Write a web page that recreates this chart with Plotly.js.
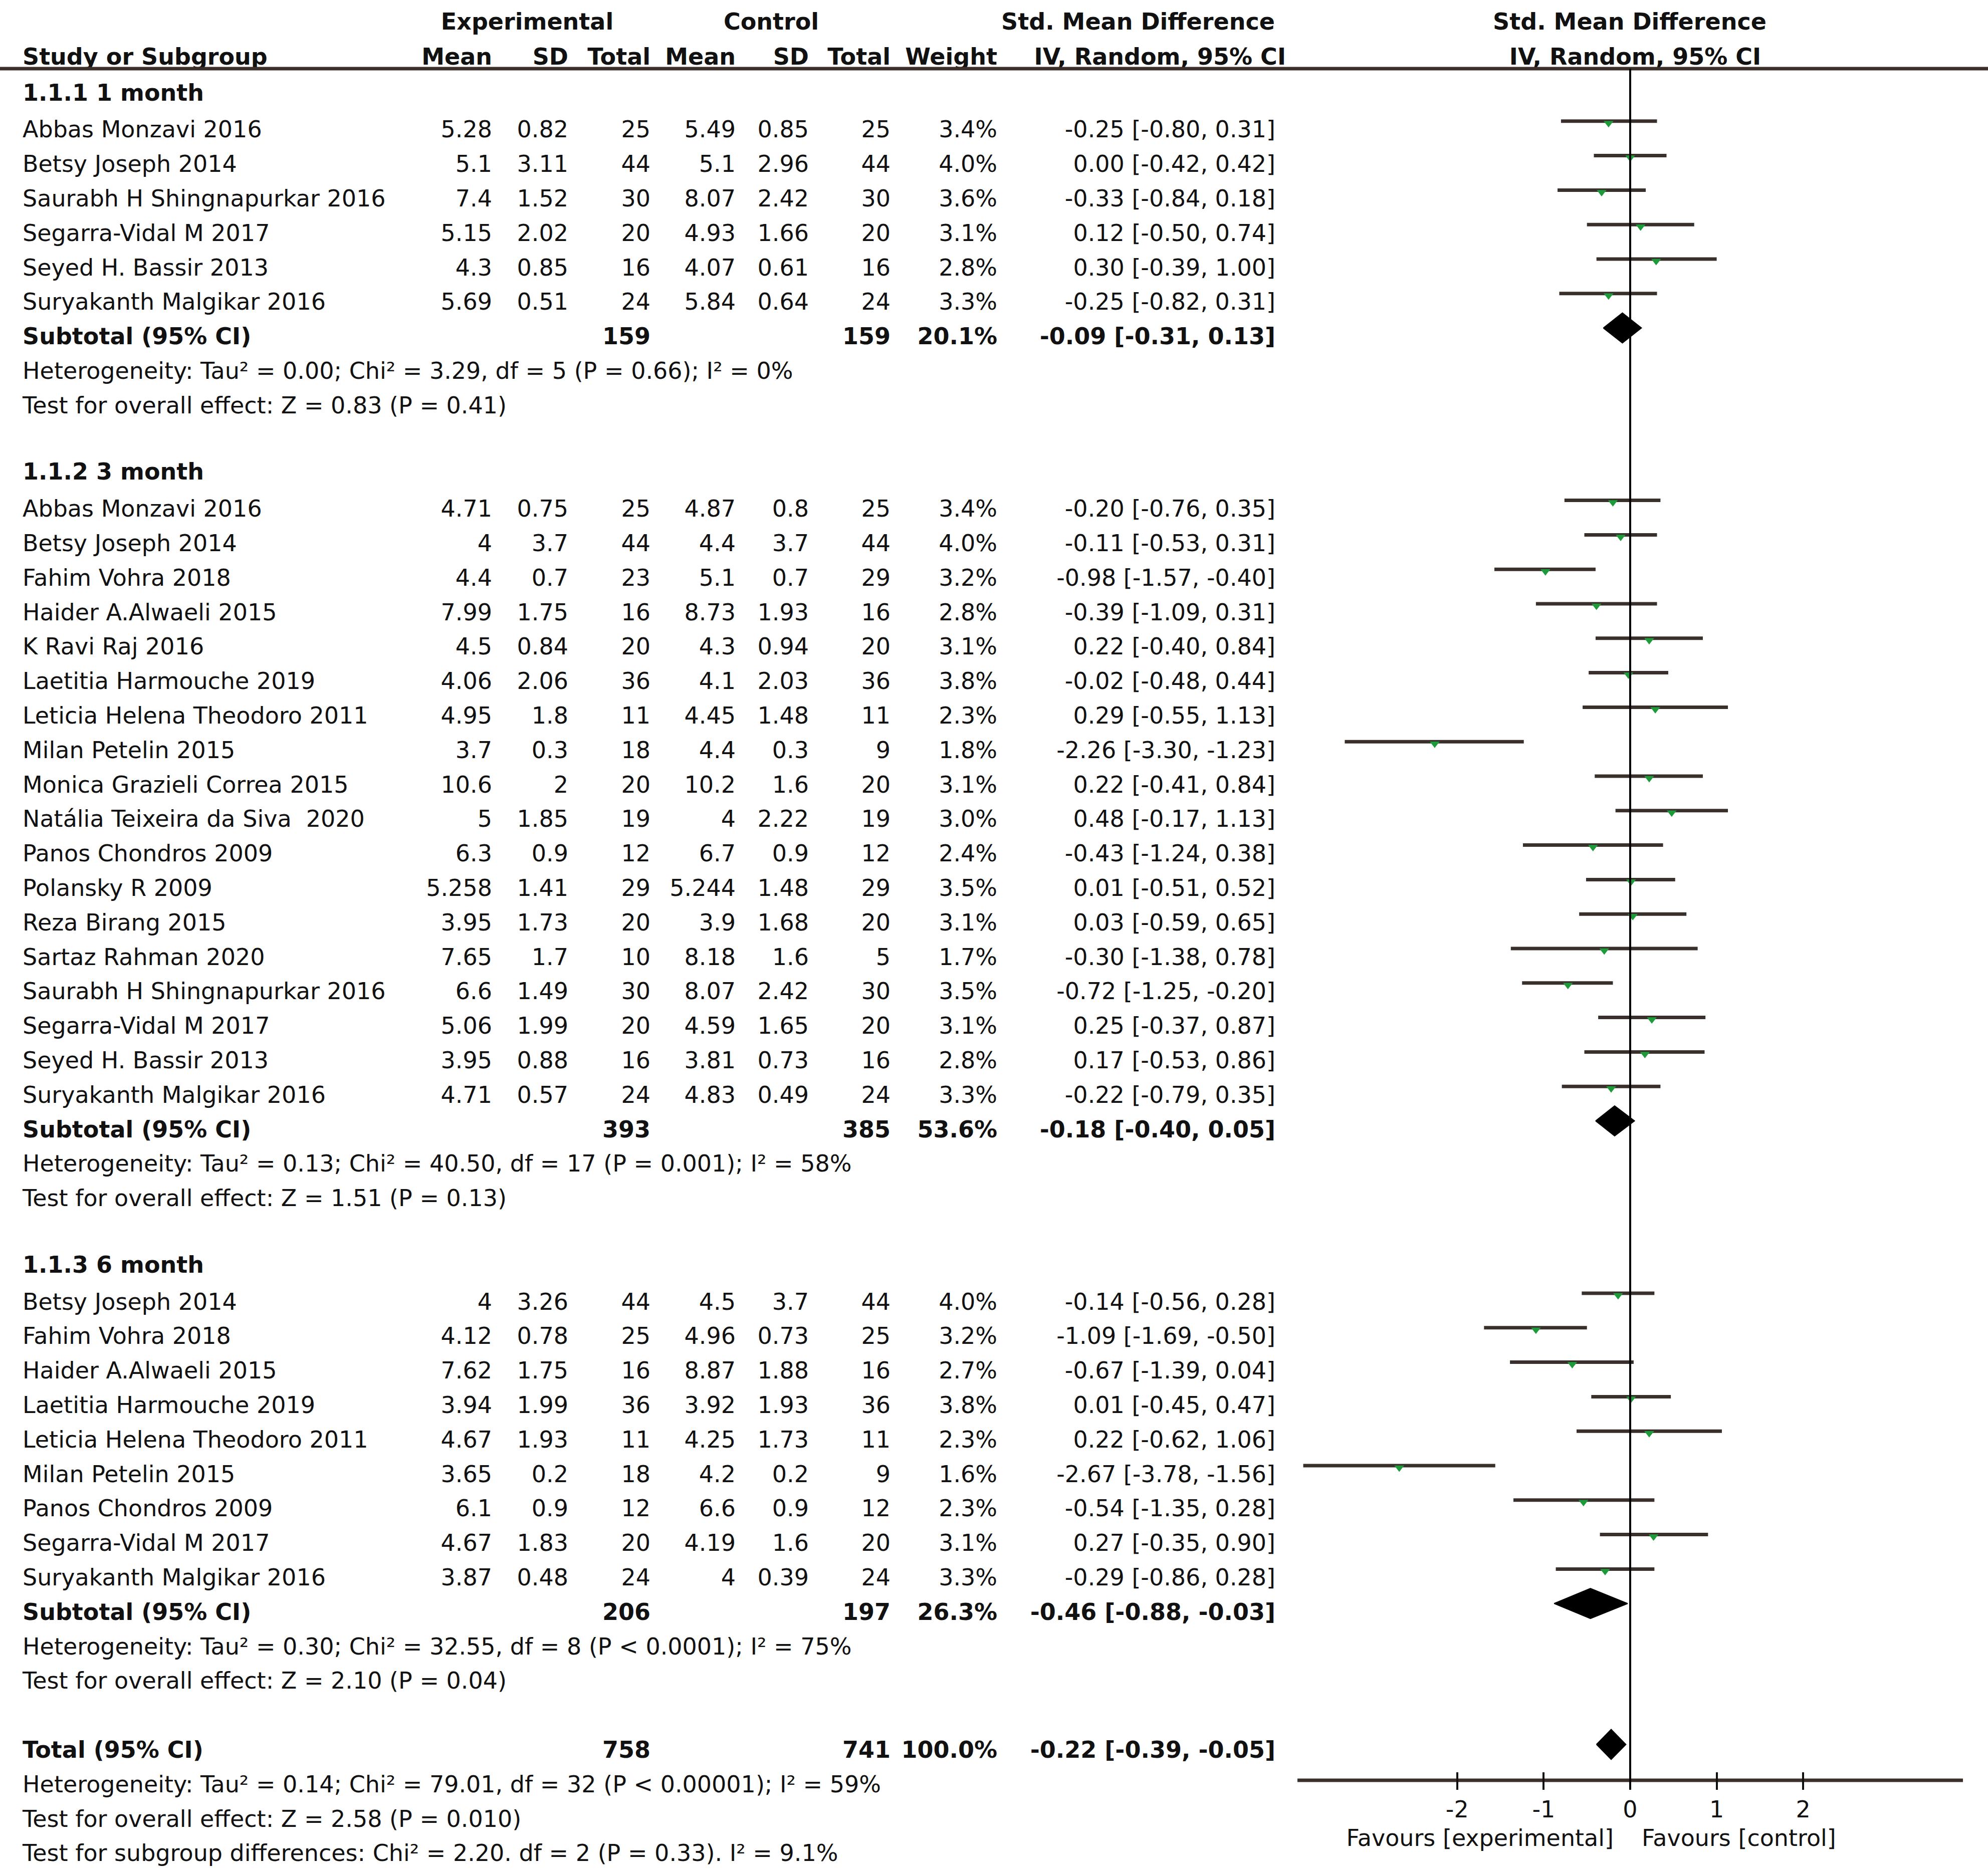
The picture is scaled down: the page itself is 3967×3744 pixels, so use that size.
<!DOCTYPE html>
<html>
<head>
<meta charset="utf-8">
<script src="https://cdn.plot.ly/plotly-3.0.1.min.js"></script>
<style>html,body{margin:0;padding:0;background:#fff}#chart{width:3967px;height:3744px}</style>
</head>
<body>
<div id="chart"></div>
<script>
// ---------------- DATA ----------------
const groupLabels = ["1.1.1 1 month", "1.1.2 3 month", "1.1.3 6 month"];

const studyNames = [
  "Abbas Monzavi 2016", "Betsy Joseph 2014", "Saurabh H Shingnapurkar 2016", "Segarra-Vidal M 2017",
  "Seyed H. Bassir 2013", "Suryakanth Malgikar 2016",
  "Abbas Monzavi 2016", "Betsy Joseph 2014", "Fahim Vohra 2018", "Haider A.Alwaeli 2015", "K Ravi Raj 2016",
  "Laetitia Harmouche 2019", "Leticia Helena Theodoro 2011", "Milan Petelin 2015", "Monica Grazieli Correa 2015",
  "Natália Teixeira da Siva\u00a0 2020", "Panos Chondros 2009", "Polansky R 2009", "Reza Birang 2015",
  "Sartaz Rahman 2020", "Saurabh H Shingnapurkar 2016", "Segarra-Vidal M 2017", "Seyed H. Bassir 2013",
  "Suryakanth Malgikar 2016",
  "Betsy Joseph 2014", "Fahim Vohra 2018", "Haider A.Alwaeli 2015", "Laetitia Harmouche 2019",
  "Leticia Helena Theodoro 2011", "Milan Petelin 2015", "Panos Chondros 2009", "Segarra-Vidal M 2017",
  "Suryakanth Malgikar 2016"
];
const studyGroup = [0,0,0,0,0,0, 1,1,1,1,1,1,1,1,1,1,1,1,1,1,1,1,1,1, 2,2,2,2,2,2,2,2,2];

const expMean = [5.28, 5.1, 7.4, 5.15, 4.3, 5.69,
  4.71, 4, 4.4, 7.99, 4.5, 4.06, 4.95, 3.7, 10.6, 5, 6.3, 5.258, 3.95, 7.65, 6.6, 5.06, 3.95, 4.71,
  4, 4.12, 7.62, 3.94, 4.67, 3.65, 6.1, 4.67, 3.87];
const expSD = [0.82, 3.11, 1.52, 2.02, 0.85, 0.51,
  0.75, 3.7, 0.7, 1.75, 0.84, 2.06, 1.8, 0.3, 2, 1.85, 0.9, 1.41, 1.73, 1.7, 1.49, 1.99, 0.88, 0.57,
  3.26, 0.78, 1.75, 1.99, 1.93, 0.2, 0.9, 1.83, 0.48];
const expN = [25, 44, 30, 20, 16, 24,
  25, 44, 23, 16, 20, 36, 11, 18, 20, 19, 12, 29, 20, 10, 30, 20, 16, 24,
  44, 25, 16, 36, 11, 18, 12, 20, 24];
const ctlMean = [5.49, 5.1, 8.07, 4.93, 4.07, 5.84,
  4.87, 4.4, 5.1, 8.73, 4.3, 4.1, 4.45, 4.4, 10.2, 4, 6.7, 5.244, 3.9, 8.18, 8.07, 4.59, 3.81, 4.83,
  4.5, 4.96, 8.87, 3.92, 4.25, 4.2, 6.6, 4.19, 4];
const ctlSD = [0.85, 2.96, 2.42, 1.66, 0.61, 0.64,
  0.8, 3.7, 0.7, 1.93, 0.94, 2.03, 1.48, 0.3, 1.6, 2.22, 0.9, 1.48, 1.68, 1.6, 2.42, 1.65, 0.73, 0.49,
  3.7, 0.73, 1.88, 1.93, 1.73, 0.2, 0.9, 1.6, 0.39];
const ctlN = [25, 44, 30, 20, 16, 24,
  25, 44, 29, 16, 20, 36, 11, 9, 20, 19, 12, 29, 20, 5, 30, 20, 16, 24,
  44, 25, 16, 36, 11, 9, 12, 20, 24];
const weightPct = [3.4, 4.0, 3.6, 3.1, 2.8, 3.3,
  3.4, 4.0, 3.2, 2.8, 3.1, 3.8, 2.3, 1.8, 3.1, 3.0, 2.4, 3.5, 3.1, 1.7, 3.5, 3.1, 2.8, 3.3,
  4.0, 3.2, 2.7, 3.8, 2.3, 1.6, 2.3, 3.1, 3.3];
const smd = [-0.25, 0.00, -0.33, 0.12, 0.30, -0.25,
  -0.20, -0.11, -0.98, -0.39, 0.22, -0.02, 0.29, -2.26, 0.22, 0.48, -0.43, 0.01, 0.03, -0.30, -0.72, 0.25, 0.17, -0.22,
  -0.14, -1.09, -0.67, 0.01, 0.22, -2.67, -0.54, 0.27, -0.29];
const ciLow = [-0.80, -0.42, -0.84, -0.50, -0.39, -0.82,
  -0.76, -0.53, -1.57, -1.09, -0.40, -0.48, -0.55, -3.30, -0.41, -0.17, -1.24, -0.51, -0.59, -1.38, -1.25, -0.37, -0.53, -0.79,
  -0.56, -1.69, -1.39, -0.45, -0.62, -3.78, -1.35, -0.35, -0.86];
const ciHigh = [0.31, 0.42, 0.18, 0.74, 1.00, 0.31,
  0.35, 0.31, -0.40, 0.31, 0.84, 0.44, 1.13, -1.23, 0.84, 1.13, 0.38, 0.52, 0.65, 0.78, -0.20, 0.87, 0.86, 0.35,
  0.28, -0.50, 0.04, 0.47, 1.06, -1.56, 0.28, 0.90, 0.28];

const subExpN = [159, 393, 206];
const subCtlN = [159, 385, 197];
const subWeight = [20.1, 53.6, 26.3];
const subSmd = [-0.09, -0.18, -0.46];
const subLow = [-0.31, -0.40, -0.88];
const subHigh = [0.13, 0.05, -0.03];
const subHet = [
  "Heterogeneity: Tau² = 0.00; Chi² = 3.29, df = 5 (P = 0.66); I² = 0%",
  "Heterogeneity: Tau² = 0.13; Chi² = 40.50, df = 17 (P = 0.001); I² = 58%",
  "Heterogeneity: Tau² = 0.30; Chi² = 32.55, df = 8 (P < 0.0001); I² = 75%"
];
const subTest = [
  "Test for overall effect: Z = 0.83 (P = 0.41)",
  "Test for overall effect: Z = 1.51 (P = 0.13)",
  "Test for overall effect: Z = 2.10 (P = 0.04)"
];

const totalExpN = 758, totalCtlN = 741, totalWeight = 100.0;
const totalSmd = -0.22, totalLow = -0.39, totalHigh = -0.05;
const totalNotes = [
  "Heterogeneity: Tau² = 0.14; Chi² = 79.01, df = 32 (P < 0.00001); I² = 59%",
  "Test for overall effect: Z = 2.58 (P = 0.010)",
  "Test for subgroup differences: Chi² = 2.20. df = 2 (P = 0.33). I² = 9.1%"
];

const tickVals = [-2, -1, 0, 1, 2];
const tickText = ["-2", "-1", "0", "1", "2"];
const favourLeft = "Favours [experimental]";
const favourRight = "Favours [control]";

// ---------------- LAYOUT GEOMETRY ----------------
const W = 3967, H = 3744;
const FONT = "DejaVu Sans, Arial, sans-serif";
const FS = 46;
const TXT = "#111111";
const ROW0 = 194, STEP = 68.8;
const rowY = i => ROW0 + STEP * i;
const MARK_SHIFT = -21;
const ZERO_PX = 3253, UNIT_PX = 172.6, AX_L = 2589, AX_R = 3917;
const xr = [(AX_L - ZERO_PX) / UNIT_PX, (AX_R - ZERO_PX) / UNIT_PX];
const HEAD_A = 47, HEAD_B = 117, HEAD_LINE = 137;
const AXIS_Y = 3553, TICK_TOP = 3536, TICK_BOT = 3571, FAV_Y = 3672;
const COL = { name: 45, em: 982, esd: 1134, en: 1298, cm: 1468, csd: 1614, cn: 1777, w: 1990, ci: 2545 };

const fmt2 = v => v.toFixed(2);
const ciText = (e, l, h) => `${fmt2(e)} [${fmt2(l)}, ${fmt2(h)}]`;

// ---------------- TEXT ITEMS ----------------
const items = [];
function put(x, y, t, pos, bold) {
  items.push({ x: x, y: y, t: bold ? "<b>" + t + "</b>" : t, pos: pos });
}
const L = "middle left", R = "middle right", C = "middle center";

// headers
put(1052, HEAD_A, "Experimental", C, true);
put(1539, HEAD_A, "Control", C, true);
put(2271, HEAD_A, "Std. Mean Difference", C, true);
put(3252, HEAD_A, "Std. Mean Difference", C, true);
put(COL.name, HEAD_B, "Study or Subgroup", R, true);
put(COL.em, HEAD_B, "Mean", L, true);
put(COL.esd, HEAD_B, "SD", L, true);
put(COL.en, HEAD_B, "Total", L, true);
put(COL.cm, HEAD_B, "Mean", L, true);
put(COL.csd, HEAD_B, "SD", L, true);
put(COL.cn, HEAD_B, "Total", L, true);
put(COL.w, HEAD_B, "Weight", L, true);
put(2566, HEAD_B, "IV, Random, 95% CI", L, true);
put(3263, HEAD_B, "IV, Random, 95% CI", C, true);

let r = 0;
const studyRow = [], subRow = [];
groupLabels.forEach((g, gi) => {
  put(COL.name, rowY(r) - 5, g, R, true); r++;
  studyNames.forEach((n, si) => {
    if (studyGroup[si] !== gi) return;
    studyRow[si] = r;
    const y = rowY(r);
    put(COL.name, y, n, R, false);
    put(COL.em, y, String(expMean[si]), L, false);
    put(COL.esd, y, String(expSD[si]), L, false);
    put(COL.en, y, String(expN[si]), L, false);
    put(COL.cm, y, String(ctlMean[si]), L, false);
    put(COL.csd, y, String(ctlSD[si]), L, false);
    put(COL.cn, y, String(ctlN[si]), L, false);
    put(COL.w, y, weightPct[si].toFixed(1) + "%", L, false);
    put(COL.ci, y, ciText(smd[si], ciLow[si], ciHigh[si]), L, false);
    r++;
  });
  subRow[gi] = r;
  const ys = rowY(r);
  put(COL.name, ys, "Subtotal (95% CI)", R, true);
  put(COL.en, ys, String(subExpN[gi]), L, true);
  put(COL.cn, ys, String(subCtlN[gi]), L, true);
  put(COL.w, ys, subWeight[gi].toFixed(1) + "%", L, true);
  put(COL.ci, ys, ciText(subSmd[gi], subLow[gi], subHigh[gi]), L, true);
  r++;
  put(COL.name, rowY(r), subHet[gi], R, false); r++;
  put(COL.name, rowY(r), subTest[gi], R, false); r++;
  r++; // blank line
});
const totalRow = r;
put(COL.name, rowY(r), "Total (95% CI)", R, true);
put(COL.en, rowY(r), String(totalExpN), L, true);
put(COL.cn, rowY(r), String(totalCtlN), L, true);
put(COL.w, rowY(r), totalWeight.toFixed(1) + "%", L, true);
put(COL.ci, rowY(r), ciText(totalSmd, totalLow, totalHigh), L, true);
r++;
totalNotes.forEach(t => { put(COL.name, rowY(r), t, R, false); r++; });

put(3220, FAV_Y, favourLeft, L, false);
put(3276, FAV_Y, favourRight, R, false);

const traces = [];
[L, R, C].forEach(pos => {
  const sel = items.filter(it => it.pos === pos);
  traces.push({
    type: "scatter", mode: "text", xaxis: "x", yaxis: "y",
    x: sel.map(s => s.x), y: sel.map(s => s.y), text: sel.map(s => s.t),
    textposition: pos, cliponaxis: false, hoverinfo: "skip", showlegend: false,
    textfont: { family: FONT, size: FS, color: TXT }
  });
});

// ---------------- FOREST MARKS ----------------
const lx = [], ly = [];
studyNames.forEach((n, si) => {
  const y = rowY(studyRow[si]) + MARK_SHIFT;
  lx.push(ciLow[si], ciHigh[si], null);
  ly.push(y, y, null);
});
traces.push({
  type: "scatter", mode: "lines", xaxis: "x2", yaxis: "y", x: lx, y: ly,
  line: { color: "#3a302b", width: 7 }, hoverinfo: "skip", showlegend: false, cliponaxis: false
});
traces.push({
  type: "scatter", mode: "markers", xaxis: "x2", yaxis: "y",
  x: smd.slice(), y: studyRow.map(i => rowY(i) + MARK_SHIFT + 4),
  marker: { symbol: "triangle-down", size: 17, color: "#1f9a3a" },
  hoverinfo: "skip", showlegend: false, cliponaxis: false
});
function diamond(est, lo, hi, yc, hh) {
  traces.push({
    type: "scatter", mode: "lines", xaxis: "x2", yaxis: "y",
    x: [lo, est, hi, est, lo], y: [yc, yc - hh, yc, yc + hh, yc],
    fill: "toself", fillcolor: "#000000", line: { color: "#000000", width: 2 },
    hoverinfo: "skip", showlegend: false, cliponaxis: false
  });
}
subSmd.forEach((e, gi) => diamond(e, subLow[gi], subHigh[gi], rowY(subRow[gi]) + MARK_SHIFT, 30));
diamond(totalSmd, totalLow, totalHigh, rowY(totalRow) - 15, 30);

const layout = {
  width: W, height: H,
  margin: { l: 0, r: 0, t: 0, b: 0 },
  paper_bgcolor: "#ffffff", plot_bgcolor: "rgba(0,0,0,0)",
  showlegend: false,
  xaxis: { domain: [0, 1], range: [0, W], visible: false, fixedrange: true },
  xaxis2: {
    domain: [AX_L / W, AX_R / W], range: xr, anchor: "free", position: 1 - TICK_TOP / H,
    showgrid: false, zeroline: false, showline: false,
    ticks: "outside", ticklen: TICK_BOT - TICK_TOP, tickwidth: 4, tickcolor: "#111111",
    tickvals: tickVals, ticktext: tickText, ticklabelstandoff: 0,
    tickfont: { family: FONT, size: FS, color: TXT }, fixedrange: true
  },
  yaxis: { domain: [0, 1], range: [H, 0], visible: false, fixedrange: true, anchor: "x" },
  shapes: [
    { type: "line", xref: "paper", yref: "y", x0: 0, x1: 1, y0: HEAD_LINE, y1: HEAD_LINE,
      line: { color: "#3b302a", width: 7 }, layer: "above" },
    { type: "line", xref: "x2", yref: "y", x0: xr[0], x1: xr[1], y0: AXIS_Y, y1: AXIS_Y,
      line: { color: "#3b302a", width: 7 }, layer: "below" },
    { type: "line", xref: "x2", yref: "y", x0: 0, x1: 0, y0: HEAD_LINE, y1: TICK_BOT,
      line: { color: "#000000", width: 4 }, layer: "above" }
  ]
};

Plotly.newPlot("chart", traces, layout, { staticPlot: true, displayModeBar: false });
</script>
</body>
</html>
